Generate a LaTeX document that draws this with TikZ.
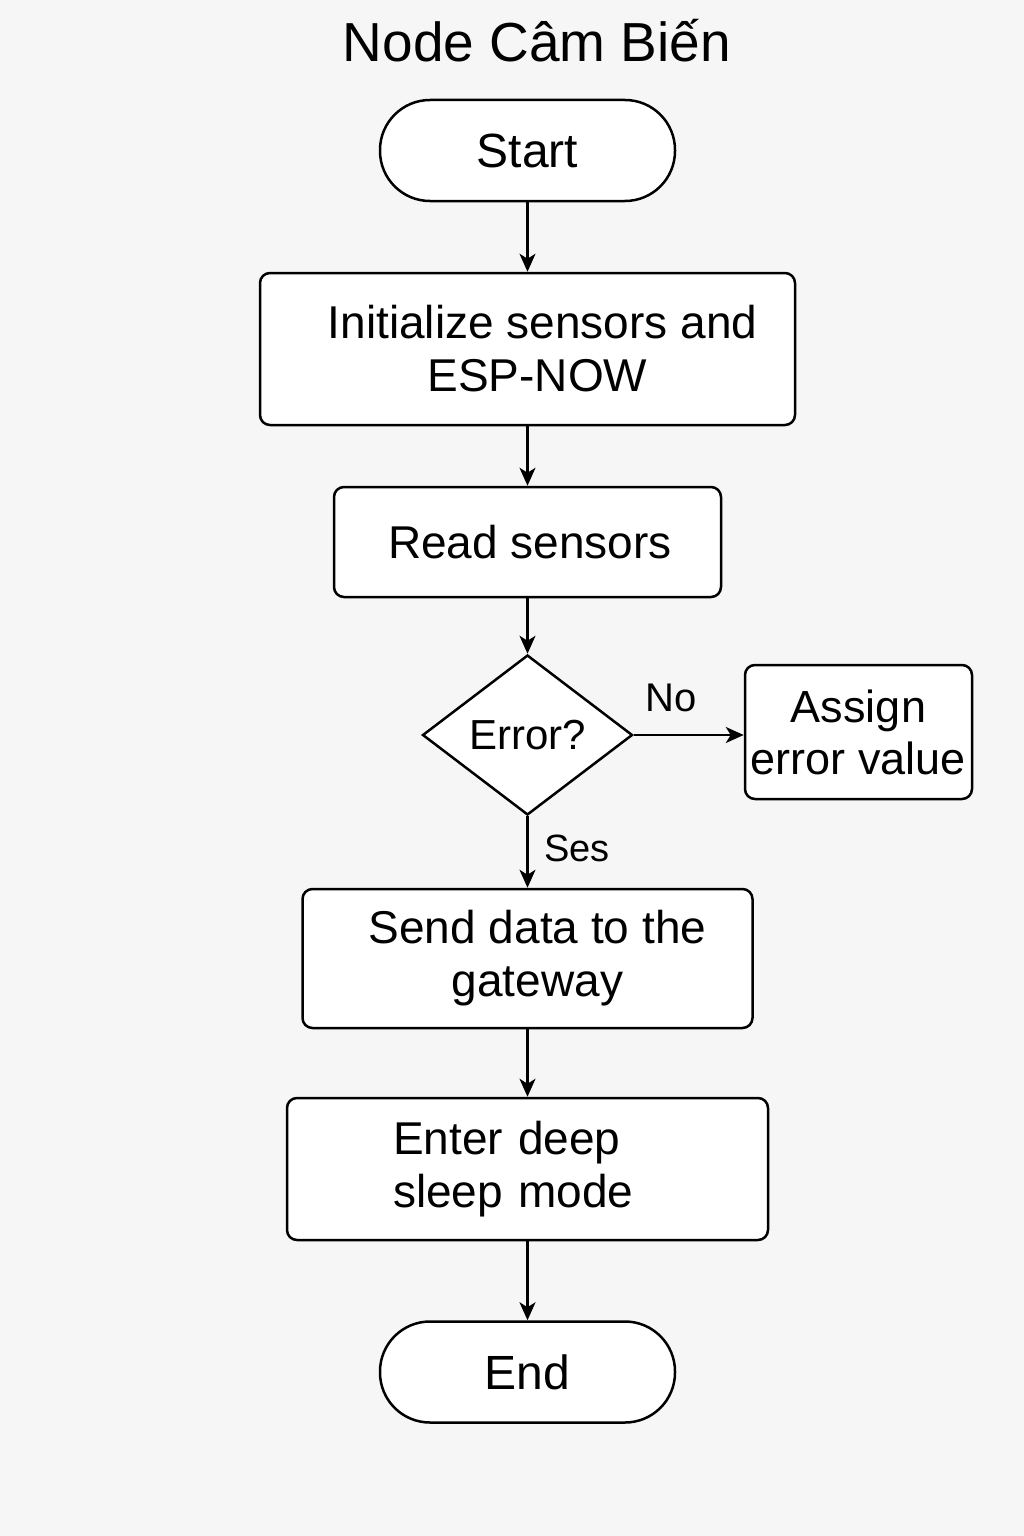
\documentclass[tikz,border=0pt]{standalone}
\usepackage{fontspec}
\setmainfont{Liberation Sans}
\usetikzlibrary{arrows.meta,shapes.geometric}
\definecolor{bgcol}{HTML}{F6F6F6}
\begin{document}
\begin{tikzpicture}[x=1pt,y=-1pt,
  every node/.style={text=black},
  txt/.style={font=\fontsize{46}{53}\selectfont},
  term/.style={txt, draw=black, line width=2.5pt, fill=white, rounded corners=50pt, minimum width=295pt, minimum height=101pt, inner sep=0pt, font=\fontsize{48}{53}\selectfont},
  proc/.style={txt, draw=black, line width=2.5pt, fill=white, rounded corners=10pt, inner sep=0pt, align=center},
  dec/.style={draw=black, line width=2.5pt, fill=white, diamond, aspect=1.3125, minimum width=210pt, minimum height=160pt, inner sep=0pt, font=\fontsize{42}{48}\selectfont},
  flow/.style={draw=black, line width=2.2pt, -{Stealth[length=18pt,width=16pt,inset=5pt]}},
  lbl/.style={font=\fontsize{40}{46}\selectfont}
]
\fill[bgcol] (0,0) rectangle (1024,1536);
\node[font=\fontsize{55}{60}\selectfont, anchor=base] (title) at (537,62) {Node Câm Biến};
\node[term] (start) at (527.5,150.5) {Start};
\node[proc, minimum width=535pt, minimum height=152pt] (init) at (527.5,349) {\hspace*{30pt}Initialize sensors and\\\hspace*{20pt}ESP-NOW};
\node[proc, minimum width=387pt, minimum height=110pt] (read) at (527.5,542) {\hspace*{5pt}Read sensors};
\node[dec] (err) at (527.5,735) {Error?};
\node[proc, minimum width=227pt, minimum height=134pt, font=\fontsize{45}{52}\selectfont] (assign) at (858.5,732) {Assign\\error value};
\node[proc, minimum width=450pt, minimum height=139pt] (send) at (527.5,958.5) {\hspace*{20pt}Send data to the\\\hspace*{20pt}gateway};
\node[proc, minimum width=481pt, minimum height=142pt, text width=269pt, align=left] (sleep) at (527.5,1169) {Enter deep\\sleep mode};
\node[term] (end) at (527.5,1372) {End};

\draw[flow] (start.south) -- (init.north);
\draw[flow] (init.south) -- (read.north);
\draw[flow] (read.south) -- (err.north);
\draw[flow] (err.east) -- (assign.west |- err.east);
\draw[flow] (err.south) -- (send.north);
\draw[flow] (send.south) -- (sleep.north);
\draw[flow] (sleep.south) -- (end.north);
\node[lbl] (no) at (671,698) {No};
\node[lbl, font=\fontsize{38}{44}\selectfont] (yes) at (577,848) {Ses};
\end{tikzpicture}
\end{document}
